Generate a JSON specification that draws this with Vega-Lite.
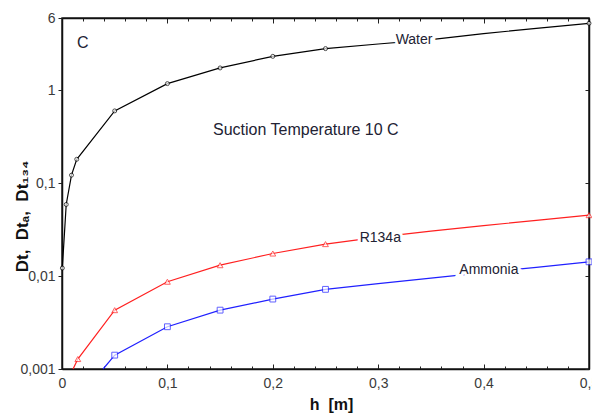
{
  "$schema": "https://vega.github.io/schema/vega-lite/v6.json",
  "width": 527,
  "height": 351,
  "autosize": {"type": "none"},
  "padding": {"left": 62, "top": 18, "right": 3, "bottom": 45},
  "background": "white",
  "config": {
    "font": "Liberation Sans",
    "view": {"stroke": "#222222", "strokeWidth": 1.5},
    "axis": {
      "grid": false,
      "domainColor": "#111111",
      "domainWidth": 1.5,
      "tickColor": "#222222",
      "tickWidth": 1,
      "labelColor": "#3a3a3a",
      "labelFontSize": 14,
      "labelFont": "Liberation Sans",
      "titleFont": "Liberation Sans",
      "titleFontSize": 16,
      "titleFontWeight": "bold",
      "titleColor": "#111111"
    }
  },
  "datasets": {
    "curves": [
      {"fluid": "Water", "h": 0.0003, "dt": 0.0122},
      {"fluid": "Water", "h": 0.004, "dt": 0.059},
      {"fluid": "Water", "h": 0.009, "dt": 0.122},
      {"fluid": "Water", "h": 0.014, "dt": 0.181},
      {"fluid": "Water", "h": 0.05, "dt": 0.6},
      {"fluid": "Water", "h": 0.1, "dt": 1.18},
      {"fluid": "Water", "h": 0.15, "dt": 1.74},
      {"fluid": "Water", "h": 0.2, "dt": 2.32},
      {"fluid": "Water", "h": 0.25, "dt": 2.81},
      {"fluid": "Water", "h": 0.3, "dt": 3.15},
      {"fluid": "Water", "h": 0.35, "dt": 3.51},
      {"fluid": "Water", "h": 0.4, "dt": 4.07},
      {"fluid": "Water", "h": 0.45, "dt": 4.64},
      {"fluid": "Water", "h": 0.5, "dt": 5.26},
      {"fluid": "R134a", "h": 0.0105, "dt": 0.001},
      {"fluid": "R134a", "h": 0.015, "dt": 0.00128},
      {"fluid": "R134a", "h": 0.05, "dt": 0.0043},
      {"fluid": "R134a", "h": 0.1, "dt": 0.0087},
      {"fluid": "R134a", "h": 0.15, "dt": 0.0131},
      {"fluid": "R134a", "h": 0.2, "dt": 0.0175},
      {"fluid": "R134a", "h": 0.25, "dt": 0.0221},
      {"fluid": "R134a", "h": 0.3, "dt": 0.0263},
      {"fluid": "R134a", "h": 0.35, "dt": 0.0305},
      {"fluid": "R134a", "h": 0.4, "dt": 0.0349},
      {"fluid": "R134a", "h": 0.45, "dt": 0.0398},
      {"fluid": "R134a", "h": 0.5, "dt": 0.0453},
      {"fluid": "Ammonia", "h": 0.039, "dt": 0.001},
      {"fluid": "Ammonia", "h": 0.05, "dt": 0.00141},
      {"fluid": "Ammonia", "h": 0.1, "dt": 0.00285},
      {"fluid": "Ammonia", "h": 0.15, "dt": 0.0043},
      {"fluid": "Ammonia", "h": 0.2, "dt": 0.00566},
      {"fluid": "Ammonia", "h": 0.25, "dt": 0.0072},
      {"fluid": "Ammonia", "h": 0.3, "dt": 0.00828},
      {"fluid": "Ammonia", "h": 0.35, "dt": 0.0095},
      {"fluid": "Ammonia", "h": 0.4, "dt": 0.0109},
      {"fluid": "Ammonia", "h": 0.45, "dt": 0.0124},
      {"fluid": "Ammonia", "h": 0.5, "dt": 0.01425}
    ],
    "labels": [
      {"h": 0.334, "dt": 3.5, "text": "Water"},
      {"h": 0.302, "dt": 0.0256, "text": "R134a"},
      {"h": 0.405, "dt": 0.0116, "text": "Ammonia"}
    ],
    "notes": [
      {"h": 0.0142, "dt": 3.24, "text": "C"},
      {"h": 0.1433, "dt": 0.371, "text": "Suction Temperature 10 C"}
    ]
  },
  "resolve": {"axis": {"x": "independent", "y": "independent"}},
  "layer": [
    {
      "data": {"name": "curves"},
      "mark": {"type": "line", "strokeWidth": 1.2},
      "encoding": {
        "x": {
          "field": "h", "type": "quantitative",
          "scale": {"domain": [0, 0.5], "nice": false, "zero": false},
          "axis": {
            "orient": "bottom",
            "values": [0, 0.02, 0.04, 0.06, 0.08, 0.1, 0.12, 0.14, 0.16, 0.18, 0.2, 0.22, 0.24, 0.26, 0.28, 0.3, 0.32, 0.34, 0.36, 0.38, 0.4, 0.42, 0.44, 0.46, 0.48, 0.5],
            "labelExpr": "abs(datum.value*10 - round(datum.value*10)) < 0.001 ? (datum.value == 0 ? '0' : replace(format(datum.value, '.1f'), '.', ',')) : ''",
            "tickSize": {"condition": {"test": "abs(datum.value*10 - round(datum.value*10)) < 0.001", "value": -5}, "value": -3},
            "labelFlush": false,
            "labelOverlap": false,
            "labelPadding": 12,
            "title": "h\u00a0 [m]",
            "titleX": 269,
            "titleY": 40,
            "titleBaseline": "alphabetic",
            "titleAlign": "center"
          }
        },
        "y": {
          "field": "dt", "type": "quantitative",
          "scale": {"type": "log", "domain": [0.001, 6], "nice": false},
          "axis": {
            "orient": "left",
            "values": [0.001, 0.01, 0.1, 1, 6],
            "labelExpr": "replace(toString(datum.value), '.', ',')",
            "tickSize": 4,
            "labelPadding": 3,
            "labelOverlap": false,
            "title": "Dt,\u00a0 Dt\u2090,\u00a0 Dt\u2081\u2083\u2084",
            "titleX": -35,
            "titleY": 198,
            "titleAngle": -90,
            "titleBaseline": "alphabetic",
            "titleAlign": "center",
            "titleFontSize": 17
          }
        },
        "color": {
          "field": "fluid", "type": "nominal",
          "scale": {"domain": ["Water", "R134a", "Ammonia"], "range": ["#000000", "#ff2020", "#2020ff"]},
          "legend": null
        }
      }
    },
    {
      "data": {"name": "curves"},
      "transform": [{"filter": "datum.dt > 0.00101 && (datum.h <= 0.26 || datum.h >= 0.49)"}],
      "mark": {"type": "point", "filled": true, "fill": "white", "strokeWidth": 1},
      "encoding": {
        "x": {
          "field": "h", "type": "quantitative",
          "scale": {"domain": [0, 0.5], "nice": false, "zero": false},
          "axis": {
            "orient": "top",
            "values": [0, 0.02, 0.04, 0.06, 0.08, 0.1, 0.12, 0.14, 0.16, 0.18, 0.2, 0.22, 0.24, 0.26, 0.28, 0.3, 0.32, 0.34, 0.36, 0.38, 0.4, 0.42, 0.44, 0.46, 0.48, 0.5],
            "labels": false,
            "tickSize": {"condition": {"test": "abs(datum.value*10 - round(datum.value*10)) < 0.001", "value": -5}, "value": -3},
            "title": null
          }
        },
        "y": {
          "field": "dt", "type": "quantitative",
          "scale": {"type": "log", "domain": [0.001, 6], "nice": false},
          "axis": {
            "orient": "right",
            "values": [0.001, 0.01, 0.1, 1],
            "labels": false,
            "tickSize": -4,
            "title": null
          }
        },
        "stroke": {
          "field": "fluid", "type": "nominal",
          "scale": {"domain": ["Water", "R134a", "Ammonia"], "range": ["#000000", "#ff2020", "#2020ff"]},
          "legend": null
        },
        "shape": {
          "field": "fluid", "type": "nominal",
          "scale": {"domain": ["Water", "R134a", "Ammonia"], "range": ["circle", "triangle-up", "square"]},
          "legend": null
        },
        "size": {"condition": {"test": "datum.fluid == 'Water'", "value": 16}, "value": 34}
      }
    },
    {
      "data": {"name": "labels"},
      "mark": {"type": "text", "fontSize": 14, "font": "Liberation Sans", "align": "center", "baseline": "middle", "fill": "white", "stroke": "white", "strokeWidth": 6},
      "encoding": {
        "x": {"field": "h", "type": "quantitative", "scale": {"domain": [0, 0.5], "nice": false, "zero": false}, "axis": null},
        "y": {"field": "dt", "type": "quantitative", "scale": {"type": "log", "domain": [0.001, 6], "nice": false}, "axis": null},
        "text": {"field": "text"}
      }
    },
    {
      "data": {"name": "labels"},
      "mark": {"type": "text", "fontSize": 14, "font": "Liberation Sans", "align": "center", "baseline": "middle", "color": "#222233"},
      "encoding": {
        "x": {"field": "h", "type": "quantitative", "scale": {"domain": [0, 0.5], "nice": false, "zero": false}, "axis": null},
        "y": {"field": "dt", "type": "quantitative", "scale": {"type": "log", "domain": [0.001, 6], "nice": false}, "axis": null},
        "text": {"field": "text"}
      }
    },
    {
      "data": {"name": "notes"},
      "mark": {"type": "text", "fontSize": 16, "font": "Liberation Sans", "align": "left", "baseline": "middle", "color": "#222233"},
      "encoding": {
        "x": {"field": "h", "type": "quantitative", "scale": {"domain": [0, 0.5], "nice": false, "zero": false}, "axis": null},
        "y": {"field": "dt", "type": "quantitative", "scale": {"type": "log", "domain": [0.001, 6], "nice": false}, "axis": null},
        "text": {"field": "text"}
      }
    }
  ]
}
